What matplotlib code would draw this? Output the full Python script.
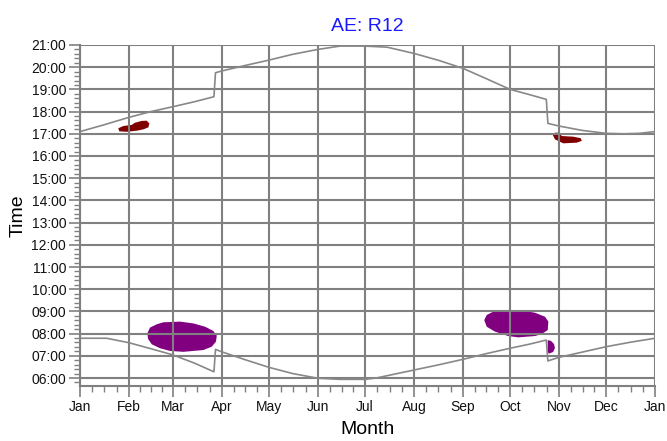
import matplotlib
matplotlib.use("Agg")
import matplotlib.pyplot as plt
import numpy as np

plt.rcParams['font.family'] = ['Liberation Sans', 'DejaVu Sans']

# day of year where each month starts (last entry = next Jan)
month_start = [0, 31, 59, 90, 120, 151, 181, 212, 243, 273, 304, 334, 365]
month_names = ['Jan', 'Feb', 'Mar', 'Apr', 'May', 'Jun', 'Jul',
               'Aug', 'Sep', 'Oct', 'Nov', 'Dec', 'Jan']

# sunset (hours) by day of year, clock change in late March / late October
sunset_day = [0, 15, 31, 45, 59, 73, 85, 86, 90, 105, 120, 135, 151, 165, 181,
              195, 212, 228, 243, 258, 273, 286, 296, 297, 304, 319, 334, 345, 355, 365]
sunset_hr = [17.10, 17.40, 17.74, 18.00, 18.22, 18.45, 18.67, 19.75, 19.83, 20.08,
             20.32, 20.58, 20.80, 20.95, 20.95, 20.90, 20.62, 20.30, 19.95, 19.48,
             19.00, 18.75, 18.55, 17.47, 17.35, 17.15, 17.02, 17.00, 17.02, 17.10]

# sunrise (hours) by day of year
sunrise_day = [0, 17, 31, 45, 59, 73, 85, 86, 90, 105, 120, 135, 151, 165, 181,
               188, 212, 228, 243, 258, 273, 285, 296, 297, 304, 319, 334, 350, 365]
sunrise_hr = [7.79, 7.79, 7.59, 7.32, 7.04, 6.66, 6.28, 7.29, 7.18, 6.82, 6.48,
              6.20, 5.99, 5.94, 5.94, 6.00, 6.36, 6.60, 6.84, 7.10, 7.34, 7.52,
              7.71, 6.77, 6.93, 7.17, 7.41, 7.62, 7.79]

# glare regions (outline as day, hour)
glare_spring_day = [42.7, 44.4, 48.7, 52.9, 63.5, 71.9, 79.4, 84.6, 86.8, 86.3,
                    83.6, 78.3, 65.6, 57.1, 50.8, 45.5, 43.2]
glare_spring_hr = [8.01, 8.27, 8.42, 8.51, 8.54, 8.46, 8.31, 8.12, 7.91, 7.64,
                   7.41, 7.26, 7.18, 7.22, 7.34, 7.52, 7.76]

glare_autumn_day = [256.6, 258.2, 262.4, 267.7, 279.3, 288.8, 295.2, 297.3, 296.9,
                    293.1, 288.8, 278.2, 271.9, 263.4, 258.2]
glare_autumn_hr = [8.61, 8.84, 8.99, 9.06, 9.06, 8.94, 8.76, 8.54, 8.16,
                   7.98, 7.89, 7.83, 7.89, 8.09, 8.31]

glare_nov_day = [296.9, 299.0, 300.9, 301.5, 300.3, 297.7, 296.9]
glare_nov_hr = [7.71, 7.67, 7.53, 7.35, 7.17, 7.10, 7.17]

evening_feb_day = [24.3, 27.5, 32.8, 34.9, 39.2, 42.3, 44.0, 43.4, 40.2, 36.0, 29.6, 24.9]
evening_feb_hr = [17.25, 17.35, 17.40, 17.50, 17.58, 17.59, 17.47, 17.29, 17.20,
                  17.14, 17.09, 17.11]

evening_nov_day = [300.1, 301.5, 304.3, 305.8, 313.1, 317.9, 318.5, 315.3, 306.8, 304.7, 301.5]
evening_nov_hr = [16.95, 17.05, 17.05, 16.90, 16.87, 16.80, 16.68, 16.60, 16.57, 16.64, 16.75]

hours = list(range(6, 22))
hour_labels = ['%02d:00' % h for h in hours]

grid_col = '#808080'
line_col = '#888888'

fig = plt.figure(figsize=(6.67, 4.41), dpi=100)
ax = fig.add_axes([0.12, 0.1247, 0.862, 0.7733])

ax.fill(glare_spring_day, glare_spring_hr, color='#800080', lw=0, zorder=0.3)
ax.fill(glare_autumn_day, glare_autumn_hr, color='#800080', lw=0, zorder=0.3)
ax.fill(glare_nov_day, glare_nov_hr, color='#800080', lw=0, zorder=0.3)
ax.fill(evening_feb_day, evening_feb_hr, color='#800000', lw=0, zorder=0.3)
ax.fill(evening_nov_day, evening_nov_hr, color='#800000', lw=0, zorder=0.3)

ax.plot(sunset_day, sunset_hr, color=line_col, lw=1.2, zorder=2)
ax.plot(sunrise_day, sunrise_hr, color=line_col, lw=1.2, zorder=2)

ax.set_xlim(0, 365)
ax.set_ylim(5.64, 21)

ax.set_xticks(month_start)
ax.set_xticklabels(month_names)
minor_x = []
for i in range(12):
    a, b = month_start[i], month_start[i + 1]
    minor_x += [a + (b - a) * k / 4 for k in (1, 2, 3)]
ax.set_xticks(minor_x, minor=True)

ax.set_yticks(hours)
ax.set_yticklabels(hour_labels)
ax.set_yticks(np.arange(5.8, 21.0, 0.2), minor=True)

ax.set_axisbelow(True)
ax.grid(True, which='major', color=grid_col, lw=1.5)

for s in ['top', 'right']:
    ax.spines[s].set_visible(False)
for s in ['left', 'bottom']:
    ax.spines[s].set_color(grid_col)
    ax.spines[s].set_linewidth(1.5)

ax.tick_params(which='major', length=8, width=1.2, color=grid_col,
               labelsize=10, labelcolor='#111111', pad=2)
ax.tick_params(which='minor', length=4, width=1.0, color=grid_col)

ax.set_xlabel('Month', fontsize=14, labelpad=5)
ax.set_ylabel('Time', fontsize=14, labelpad=3)
ax.set_title('AE: R12', fontsize=14, color='#1a1aff', pad=10)

plt.savefig('out.png', dpi=100)
